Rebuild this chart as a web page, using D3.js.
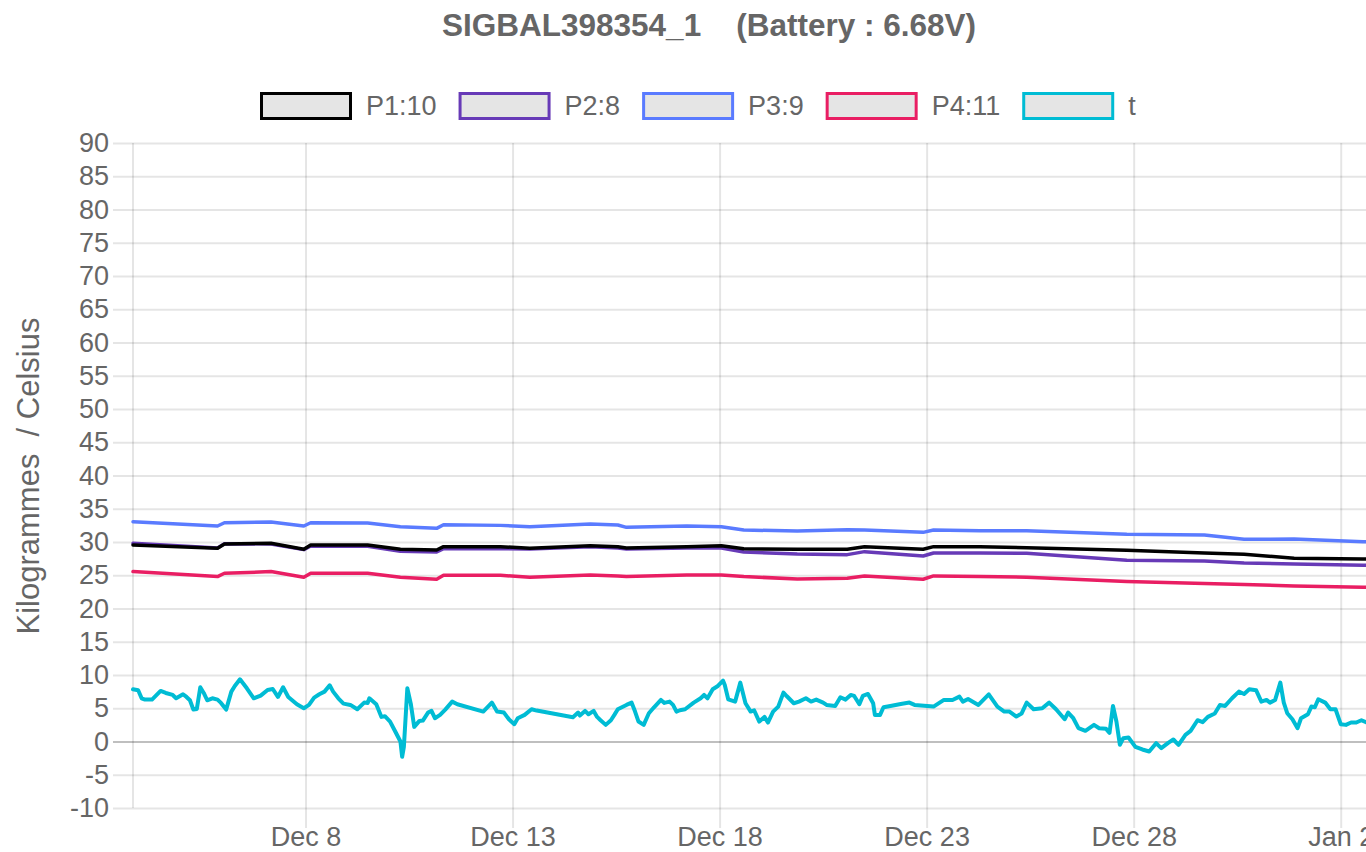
<!DOCTYPE html>
<html><head><meta charset="utf-8">
<script src="https://cdn.jsdelivr.net/npm/d3@7"></script>
<style>
body{margin:0;overflow:hidden;background:#fff}
text{font-family:"Liberation Sans",Arial,Helvetica,sans-serif;fill:#666}
</style>
</head><body><svg id="c"></svg><script>
const titleText = "SIGBAL398354_1    (Battery : 6.68V)";
const yLabel = "Kilogrammes  / Celsius";
const seriesNames = ["P1:10","P2:8","P3:9","P4:11","t"];
const seriesColors = ["#000000","#673ab7","#5a7bff","#e91e63","#00bcd4"];
const yTicks = [-10,-5,0,5,10,15,20,25,30,35,40,45,50,55,60,65,70,75,80,85,90];
const xTicks = ["2023-12-08T00","2023-12-13T00","2023-12-18T00","2023-12-23T00","2023-12-28T00","2024-01-02T00"];

const pDates = ["2023-12-03T20","2023-12-05T21","2023-12-06T01","2023-12-07T04","2023-12-07T23","2023-12-08T03","2023-12-09T12","2023-12-10T07","2023-12-11T04","2023-12-11T08","2023-12-12T17","2023-12-13T10","2023-12-14T21","2023-12-15T13","2023-12-15T18","2023-12-17T05","2023-12-18T01","2023-12-18T14","2023-12-19T21","2023-12-21T02","2023-12-21T12","2023-12-22T22","2023-12-23T04","2023-12-24T07","2023-12-25T10","2023-12-27T20","2023-12-29T17","2023-12-30T16","2023-12-31T21","2024-01-02T13","2024-01-03T15"];
const p1 = [29.55,29.05,29.7,29.8,28.9,29.55,29.55,28.9,28.8,29.3,29.3,29.05,29.45,29.3,29.1,29.3,29.45,29.0,28.9,28.9,29.3,28.9,29.3,29.3,29.15,28.75,28.35,28.15,27.55,27.45,27.4];
const p2 = [29.8,29.1,29.75,29.7,28.85,29.4,29.35,28.6,28.5,29.0,29.0,28.95,29.3,29.1,28.95,29.1,29.1,28.5,28.2,28.1,28.55,27.9,28.35,28.35,28.3,27.25,27.15,26.85,26.7,26.5,26.45];
const p3 = [33.05,32.4,32.9,33.0,32.4,32.9,32.85,32.3,32.05,32.6,32.5,32.3,32.7,32.55,32.2,32.4,32.3,31.8,31.65,31.85,31.8,31.45,31.8,31.7,31.7,31.15,31.05,30.4,30.45,30.05,30.0];
const p4 = [25.55,24.8,25.3,25.55,24.7,25.3,25.3,24.7,24.4,25.0,25.0,24.7,25.05,24.9,24.8,25.05,25.05,24.8,24.45,24.55,24.9,24.4,24.9,24.8,24.7,24.05,23.75,23.6,23.4,23.2,23.15];

const tDates = ["2023-12-03T20","2023-12-03T23","2023-12-04T01","2023-12-04T03","2023-12-04T07","2023-12-04T12","2023-12-04T15","2023-12-04T19","2023-12-04T21",
"2023-12-05T01","2023-12-05T03","2023-12-05T05","2023-12-05T07","2023-12-05T09","2023-12-05T11","2023-12-05T13","2023-12-05T15","2023-12-05T18","2023-12-05T21","2023-12-05T23",
"2023-12-06T02","2023-12-06T05","2023-12-06T07","2023-12-06T10","2023-12-06T14","2023-12-06T18","2023-12-06T22",
"2023-12-07T02","2023-12-07T05","2023-12-07T08","2023-12-07T11","2023-12-07T14","2023-12-07T19","2023-12-07T23",
"2023-12-08T02","2023-12-08T05","2023-12-08T08","2023-12-08T11","2023-12-08T14","2023-12-08T16","2023-12-08T19","2023-12-08T22",
"2023-12-09T02","2023-12-09T06","2023-12-09T10","2023-12-09T12","2023-12-09T13","2023-12-09T17","2023-12-09T20","2023-12-09T22",
"2023-12-10T01","2023-12-10T04","2023-12-10T07","2023-12-10T08","2023-12-10T09","2023-12-10T11","2023-12-10T13","2023-12-10T15","2023-12-10T18","2023-12-10T20","2023-12-10T23",
"2023-12-11T01","2023-12-11T03","2023-12-11T06","2023-12-11T09","2023-12-11T13","2023-12-11T16",
"2023-12-12T07","2023-12-12T12","2023-12-12T15","2023-12-12T19","2023-12-12T22",
"2023-12-13T01","2023-12-13T03","2023-12-13T07","2023-12-13T11","2023-12-13T14",
"2023-12-14T11","2023-12-14T14","2023-12-14T15","2023-12-14T18","2023-12-14T20","2023-12-14T23",
"2023-12-15T01","2023-12-15T03","2023-12-15T06","2023-12-15T09","2023-12-15T11","2023-12-15T13","2023-12-15T18","2023-12-15T21","2023-12-15T23",
"2023-12-16T01","2023-12-16T04","2023-12-16T07","2023-12-16T10","2023-12-16T14","2023-12-16T16","2023-12-16T19","2023-12-16T21","2023-12-16T23",
"2023-12-17T01","2023-12-17T04","2023-12-17T09","2023-12-17T13","2023-12-17T15","2023-12-17T17","2023-12-17T20","2023-12-17T23",
"2023-12-18T02","2023-12-18T03","2023-12-18T05","2023-12-18T09","2023-12-18T12","2023-12-18T15","2023-12-18T18","2023-12-18T20","2023-12-18T23",
"2023-12-19T02","2023-12-19T04","2023-12-19T07","2023-12-19T10","2023-12-19T13","2023-12-19T15","2023-12-19T19","2023-12-19T22",
"2023-12-20T02","2023-12-20T05","2023-12-20T08","2023-12-20T12","2023-12-20T14","2023-12-20T19","2023-12-20T22",
"2023-12-21T01","2023-12-21T04","2023-12-21T06","2023-12-21T09","2023-12-21T11","2023-12-21T14","2023-12-21T17","2023-12-21T18","2023-12-21T21","2023-12-21T23",
"2023-12-22T03","2023-12-22T09","2023-12-22T14","2023-12-22T17",
"2023-12-23T04","2023-12-23T10","2023-12-23T15","2023-12-23T19","2023-12-23T21",
"2023-12-24T00","2023-12-24T06","2023-12-24T12","2023-12-24T17","2023-12-24T21",
"2023-12-25T00","2023-12-25T04","2023-12-25T07","2023-12-25T10","2023-12-25T14","2023-12-25T19","2023-12-25T23",
"2023-12-26T03","2023-12-26T08","2023-12-26T10","2023-12-26T13","2023-12-26T16","2023-12-26T20",
"2023-12-27T01","2023-12-27T04","2023-12-27T08","2023-12-27T10","2023-12-27T12","2023-12-27T14","2023-12-27T16","2023-12-27T18","2023-12-27T21",
"2023-12-28T01","2023-12-28T05","2023-12-28T09","2023-12-28T13","2023-12-28T16","2023-12-28T20","2023-12-28T23",
"2023-12-29T02","2023-12-29T06","2023-12-29T09","2023-12-29T13","2023-12-29T16","2023-12-29T19","2023-12-29T23",
"2023-12-30T02","2023-12-30T05","2023-12-30T09","2023-12-30T13","2023-12-30T16","2023-12-30T19","2023-12-30T23",
"2023-12-31T02","2023-12-31T05","2023-12-31T07","2023-12-31T10","2023-12-31T13","2023-12-31T15","2023-12-31T17","2023-12-31T20","2023-12-31T23",
"2024-01-01T01","2024-01-01T05","2024-01-01T07","2024-01-01T09","2024-01-01T11","2024-01-01T15","2024-01-01T18","2024-01-01T21",
"2024-01-02T00","2024-01-02T03","2024-01-02T06","2024-01-02T09","2024-01-02T12","2024-01-02T15","2024-01-02T21",
"2024-01-03T04","2024-01-03T10","2024-01-03T15"];
const tValues = [7.85,7.7,6.5,6.3,6.3,7.6,7.3,7.0,6.5,
7.1,6.7,6.2,4.8,4.9,8.15,7.3,6.2,6.5,6.3,5.8,
4.8,7.5,8.35,9.35,8.0,6.5,6.9,
7.75,7.9,6.7,8.15,6.7,5.6,5.0,
5.5,6.6,7.1,7.5,8.45,7.5,6.5,5.7,
5.5,4.85,5.85,5.8,6.5,5.6,3.7,3.8,
3.0,1.5,0.0,-2.3,-0.8,8.0,5.7,2.2,3.1,3.15,4.35,
4.6,3.5,4.0,4.8,6.0,5.6,
4.5,5.85,4.5,4.35,3.3,
2.6,3.5,4.0,4.85,4.65,
3.65,4.35,3.9,4.6,4.1,4.6,
3.7,3.2,2.5,3.2,4.0,4.85,5.5,5.85,4.5,
3.0,2.5,4.25,5.15,6.25,5.8,6.0,5.5,4.5,
4.7,4.85,5.85,6.5,7.0,6.5,7.85,8.35,
9.15,8.5,6.35,6.0,8.85,5.75,4.5,4.7,3.0,
3.7,2.85,4.5,5.25,7.35,6.8,5.75,6.0,
6.5,6.0,6.3,5.85,5.5,5.35,6.65,
6.3,7.0,6.85,5.6,6.85,7.15,5.75,4.0,4.0,5.15,
5.35,5.65,5.85,5.5,
5.25,6.25,6.25,6.75,6.0,
6.4,5.5,7.1,5.25,4.5,
4.5,3.75,4.2,5.85,4.85,5.0,5.85,
4.85,3.35,4.35,3.5,2.0,1.6,
2.5,2.0,1.9,1.3,5.35,3.0,-0.5,0.5,0.6,
-0.8,-1.2,-1.5,-0.25,-1.0,-0.2,0.3,
-0.5,1.0,1.6,3.2,2.9,3.7,4.2,
5.5,5.35,6.5,7.5,7.15,7.85,7.7,
6.0,6.25,5.85,6.25,8.85,5.85,4.25,3.35,2.0,
3.5,4.1,5.25,5.15,6.35,5.85,4.85,4.85,
2.6,2.5,2.85,2.85,3.2,2.85,3.1,
3.4,3.0,3.2];

(function(){
const W = 1418, H = 852;
const L = 133, R = 1408, T = 143, B = 808;
const FS = 27;
const parse = d3.timeParse("%Y-%m-%dT%H");
const svg = d3.select("#c").attr("width", W).attr("height", H);

const pD = pDates.map(parse);
const tD = tDates.map(parse);
const x = d3.scaleTime().domain([pD[0], pD[pD.length-1]]).range([L, R]);
const y = d3.scaleLinear().domain([-10, 90]).range([B, T]);

// title
svg.append("text").attr("x", 709).attr("y", 36).attr("text-anchor","middle")
  .style("font-weight","bold").style("font-size","31.5px").style("white-space","pre")
  .text(titleText);

// y grid + labels
const yAx = svg.append("g").attr("transform", `translate(${L-20},0)`)
  .call(d3.axisLeft(y).tickValues(yTicks).tickSize(-(R-L+20)).tickPadding(4)
    .tickFormat(d => String(d)));
yAx.select(".domain").remove();
yAx.selectAll(".tick line").attr("stroke", d => d === 0 ? "rgba(0,0,0,0.25)" : "rgba(0,0,0,0.1)").attr("stroke-width", 2);
yAx.selectAll(".tick text").style("font-size", FS + "px").attr("fill","#666");

// x grid + labels
const xAx = svg.append("g").attr("transform", `translate(0,${T})`)
  .call(d3.axisBottom(x).tickValues(xTicks.map(parse)).tickSize(B - T + 20).tickPadding(-1)
    .tickFormat(d3.timeFormat("%b %-d")));
xAx.select(".domain").remove();
xAx.selectAll(".tick line").attr("stroke","rgba(0,0,0,0.1)").attr("stroke-width",2);
xAx.selectAll(".tick text").style("font-size", FS + "px").attr("fill","#666");
svg.append("line").attr("x1", L).attr("x2", L).attr("y1", T).attr("y2", B)
  .attr("stroke","rgba(0,0,0,0.1)").attr("stroke-width",2);

// y label
svg.append("text").attr("transform", `translate(39,476) rotate(-90)`).attr("text-anchor","middle")
  .style("font-size","31px").style("white-space","pre").text(yLabel);

// lines
const series = [
  {name: seriesNames[0], color: seriesColors[0], dates: pD, vals: p1, w: 3.5},
  {name: seriesNames[1], color: seriesColors[1], dates: pD, vals: p2, w: 3.5},
  {name: seriesNames[2], color: seriesColors[2], dates: pD, vals: p3, w: 3.5},
  {name: seriesNames[3], color: seriesColors[3], dates: pD, vals: p4, w: 3.5},
  {name: seriesNames[4], color: seriesColors[4], dates: tD, vals: tValues, w: 4}
];
const line = d3.line().x(d => x(d[0])).y(d => y(d[1]));
series.slice().reverse().forEach(s => {
  svg.append("path").datum(s.dates.map((d,i) => [d, s.vals[i]]))
    .attr("d", line).attr("fill","none").attr("stroke", s.color)
    .attr("stroke-width", s.w).attr("stroke-linejoin","round").attr("stroke-linecap","round");
});

// legend
const lg = svg.append("g");
let cx = 260;
series.forEach(s => {
  const g = lg.append("g");
  g.append("rect").attr("x", cx + 1.5).attr("y", 93.5).attr("width", 89).attr("height", 25)
    .attr("fill","rgba(0,0,0,0.1)").attr("stroke", s.color).attr("stroke-width",3);
  const t = g.append("text").attr("x", cx + 106).attr("y", 115).style("font-size", FS + "px").text(s.name);
  const tw = t.node().getComputedTextLength();
  cx += 106 + tw + 22;
});
})();
</script></body></html>
